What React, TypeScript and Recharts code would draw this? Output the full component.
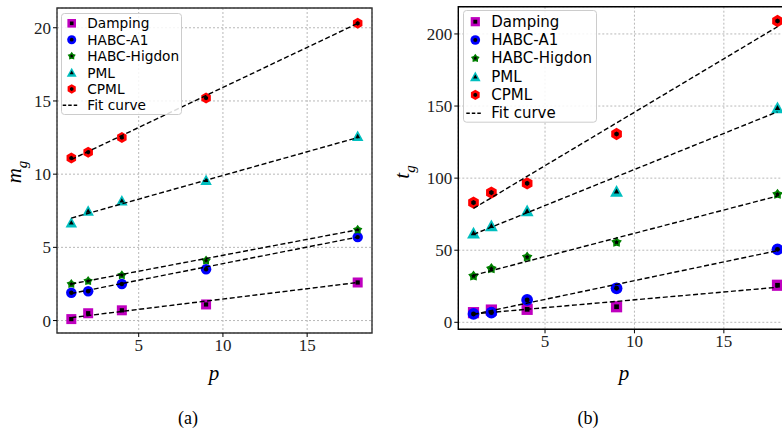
import React from "react";
import {
  ScatterChart,
  Scatter,
  XAxis,
  YAxis,
  CartesianGrid,
  ReferenceArea,
} from "recharts";

// x values (number of processes p)
const P = [1, 2, 4, 9, 18];
const P_FIT = [1, 18];

// (a) memory m_g
const M_DAMPING = [0.1, 0.5, 0.7, 1.1, 2.6];
const M_A1 = [1.9, 2.0, 2.5, 3.5, 5.7];
const M_HIGDON = [2.5, 2.7, 3.1, 4.1, 6.2];
const M_PML = [6.7, 7.5, 8.2, 9.6, 12.6];
const M_CPML = [11.1, 11.5, 12.5, 15.2, 20.3];
const M_FIT_DAMPING = [0.2, 2.6];
const M_FIT_A1 = [1.85, 5.7];
const M_FIT_HIGDON = [2.5, 6.2];
const M_FIT_PML = [7.0, 12.5];
const M_FIT_CPML = [11.0, 20.3];

// (b) time t_g
const T_DAMPING = [6.7, 8.5, 9.0, 10.8, 25.7];
const T_A1 = [5.8, 6.7, 15.5, 23.6, 50.6];
const T_HIGDON = [32.1, 37.2, 45.3, 55.5, 88.8];
const T_PML = [62, 67, 77.4, 91, 148.9];
const T_CPML = [83, 90, 96.4, 130.6, 209];
const T_FIT_DAMPING = [5.8, 24.3];
const T_FIT_A1 = [5.5, 49.7];
const T_FIT_HIGDON = [32.6, 87.6];
const T_FIT_PML = [61, 146];
const T_FIT_CPML = [79, 205];

const X_TICKS = [5, 10, 15];
const M_TICKS = [0, 5, 10, 15, 20];
const T_TICKS = [0, 50, 100, 150, 200];

const NAMES = ["Damping", "HABC-A1", "HABC-Higdon", "PML", "CPML"];
const KINDS = ["square", "circle", "star", "triangle", "hexagon"];
const COLORS = ["#bf00bf", "#0000ff", "#008000", "#00bfbf", "#ff0000"];

const SERIF = "'Liberation Serif', 'DejaVu Serif', serif";
const SANS = "'DejaVu Sans', sans-serif";

const toPts = (xs: number[], ys: number[]) => xs.map((p, i) => ({ p, v: ys[i] }));

function polygon(cx: number, cy: number, r: number, n: number, rot: number) {
  const pts: string[] = [];
  for (let i = 0; i < n; i++) {
    const a = rot + (i * 2 * Math.PI) / n;
    pts.push(`${cx + r * Math.cos(a)},${cy + r * Math.sin(a)}`);
  }
  return pts.join(" ");
}

function star(cx: number, cy: number, r: number) {
  const pts: string[] = [];
  for (let i = 0; i < 10; i++) {
    const a = -Math.PI / 2 + (i * Math.PI) / 5;
    const rr = i % 2 === 0 ? r : r * 0.62;
    pts.push(`${cx + rr * Math.cos(a)},${cy + rr * Math.sin(a)}`);
  }
  return pts.join(" ");
}

function shapeEl(kind: string, cx: number, cy: number, s: number, fill: string) {
  switch (kind) {
    case "square":
      return <rect x={cx - s} y={cy - s} width={2 * s} height={2 * s} fill={fill} />;
    case "circle":
      return <circle cx={cx} cy={cy} r={s * 1.05} fill={fill} />;
    case "star":
      return <polygon points={star(cx, cy, s)} fill={fill} />;
    case "triangle":
      return (
        <polygon
          points={`${cx},${cy - s * 1.1} ${cx - s * 1.15},${cy + s * 1.0} ${cx + s * 1.15},${cy + s * 1.0}`}
          fill={fill}
        />
      );
    default:
      return <polygon points={polygon(cx, cy, s * 1.1, 6, -Math.PI / 2)} fill={fill} />;
  }
}

function Marker({ kind, color, cx, cy, size }: { kind: string; color: string; cx: number; cy: number; size: number }) {
  return (
    <g>
      {shapeEl(kind, cx, cy, size, color)}
      {shapeEl(kind, cx, cy, size * 0.42, "#000")}
    </g>
  );
}

function LegendBox({ left, top, width, height, gap, first, mx, tx, font, size }: any) {
  return (
    <svg
      style={{ position: "absolute", left, top, overflow: "visible" }}
      width={width}
      height={height}
    >
      <rect x={0.5} y={0.5} width={width - 1} height={height - 1} rx={3} fill="rgba(255,255,255,0.85)" stroke="#cccccc" />
      {NAMES.map((n, i) => (
        <g key={n}>
          <Marker kind={KINDS[i]} color={COLORS[i]} cx={mx} cy={first + i * gap} size={size} />
          <text x={tx} y={first + i * gap} dominantBaseline="central" fontFamily={SANS} fontSize={font} fill="#000">
            {n}
          </text>
        </g>
      ))}
      <line x1={mx - 9} x2={mx + 7} y1={first + 5 * gap} y2={first + 5 * gap} stroke="#000" strokeWidth={1.5} strokeDasharray="3.5 2" />
      <text x={tx} y={first + 5 * gap} dominantBaseline="central" fontFamily={SANS} fontSize={font} fill="#000">
        Fit curve
      </text>
    </svg>
  );
}

function Panel({
  left, width, margin, yWidth, yDomain, yTicks, series, fits, size, spine,
}: any) {
  const xDomain = [0.15, 18.85];
  const tick = { fontFamily: SERIF, fontSize: 17, fill: "#222" };
  return (
    <div style={{ position: "absolute", left, top: 0 }}>
      <ScatterChart width={width} height={429} margin={margin}>
        <CartesianGrid stroke="#b8b8b8" strokeDasharray="2 2" />
        <XAxis
          type="number"
          dataKey="p"
          domain={xDomain}
          ticks={X_TICKS}
          height={30}
          tick={tick}
          tickSize={4}
          axisLine={false}
          tickLine={{ stroke: "#000" }}
          allowDataOverflow
        />
        <YAxis
          type="number"
          dataKey="v"
          domain={yDomain}
          ticks={yTicks}
          width={yWidth}
          tick={tick}
          tickSize={4}
          axisLine={false}
          tickLine={{ stroke: "#000" }}
          allowDataOverflow
        />
        {series.map((vals: number[], i: number) => (
          <Scatter
            key={NAMES[i]}
            data={toPts(P, vals)}
            isAnimationActive={false}
            shape={(pr: any) => (
              <Marker kind={KINDS[i]} color={COLORS[i]} cx={pr.cx} cy={pr.cy} size={size} />
            )}
          />
        ))}
        {fits.map((vals: number[], i: number) => (
          <Scatter
            key={"fit" + i}
            data={toPts(P_FIT, vals)}
            isAnimationActive={false}
            line={{ stroke: "#000", strokeWidth: 1.4, strokeDasharray: "5 2.6" }}
            lineType="joint"
            shape={() => <g />}
          />
        ))}
        <ReferenceArea
          x1={xDomain[0]}
          x2={xDomain[1]}
          y1={yDomain[0]}
          y2={yDomain[1]}
          fill="none"
          fillOpacity={0}
          stroke={spine}
          strokeWidth={1.4}
          ifOverflow="visible"
        />
      </ScatterChart>
    </div>
  );
}

export default function App() {
  return (
    <div style={{ position: "fixed", left: 0, top: 0, width: 782, height: 429, overflow: "hidden", background: "#fff" }}>
      <Panel
        left={0}
        width={391}
        margin={{ top: 8, right: 19, bottom: 66, left: 0 }}
        yWidth={57}
        yDomain={[-0.85, 21.35]}
        yTicks={M_TICKS}
        series={[M_DAMPING, M_A1, M_HIGDON, M_PML, M_CPML]}
        fits={[M_FIT_DAMPING, M_FIT_A1, M_FIT_HIGDON, M_FIT_PML, M_FIT_CPML]}
        size={5}
        spine="#333"
      />
      <Panel
        left={391}
        width={420}
        margin={{ top: 6.7, right: 18.3, bottom: 69.7, left: 0 }}
        yWidth={67.3}
        yDomain={[-4.85, 218.9]}
        yTicks={T_TICKS}
        series={[T_DAMPING, T_A1, T_HIGDON, T_PML, T_CPML]}
        fits={[T_FIT_DAMPING, T_FIT_A1, T_FIT_HIGDON, T_FIT_PML, T_FIT_CPML]}
        size={5.6}
        spine="#000"
      />

      <LegendBox left={61} top={13} width={121} height={102} gap={16.4} first={10.3} mx={10.7} tx={26.3} font={13.7} size={4.3} />
      <LegendBox left={462.7} top={10} width={134} height={112.7} gap={18.3} first={11.7} mx={12.3} tx={28.3} font={15} size={4.6} />

      {/* axis labels */}
      <div style={{ position: "absolute", left: 214, top: 373, transform: "translate(-50%,-50%)", fontFamily: SERIF, fontStyle: "italic", fontSize: 21 }}>
        p
      </div>
      <div style={{ position: "absolute", left: 624, top: 373, transform: "translate(-50%,-50%)", fontFamily: SERIF, fontStyle: "italic", fontSize: 21 }}>
        p
      </div>
      <div style={{ position: "absolute", left: 17, top: 172, transform: "translate(-50%,-50%) rotate(-90deg)", fontFamily: SERIF, fontStyle: "italic", fontSize: 21, whiteSpace: "nowrap", lineHeight: 1 }}>
        m<sub style={{ fontSize: 15 }}>g</sub>
      </div>
      <div style={{ position: "absolute", left: 405, top: 172, transform: "translate(-50%,-50%) rotate(-90deg)", fontFamily: SERIF, fontStyle: "italic", fontSize: 21, whiteSpace: "nowrap", lineHeight: 1 }}>
        t<sub style={{ fontSize: 15 }}>g</sub>
      </div>

      {/* panel captions */}
      <div style={{ position: "absolute", left: 188, top: 418, transform: "translate(-50%,-50%)", fontFamily: SERIF, fontSize: 18 }}>
        (a)
      </div>
      <div style={{ position: "absolute", left: 588, top: 418, transform: "translate(-50%,-50%)", fontFamily: SERIF, fontSize: 18 }}>
        (b)
      </div>
    </div>
  );
}
